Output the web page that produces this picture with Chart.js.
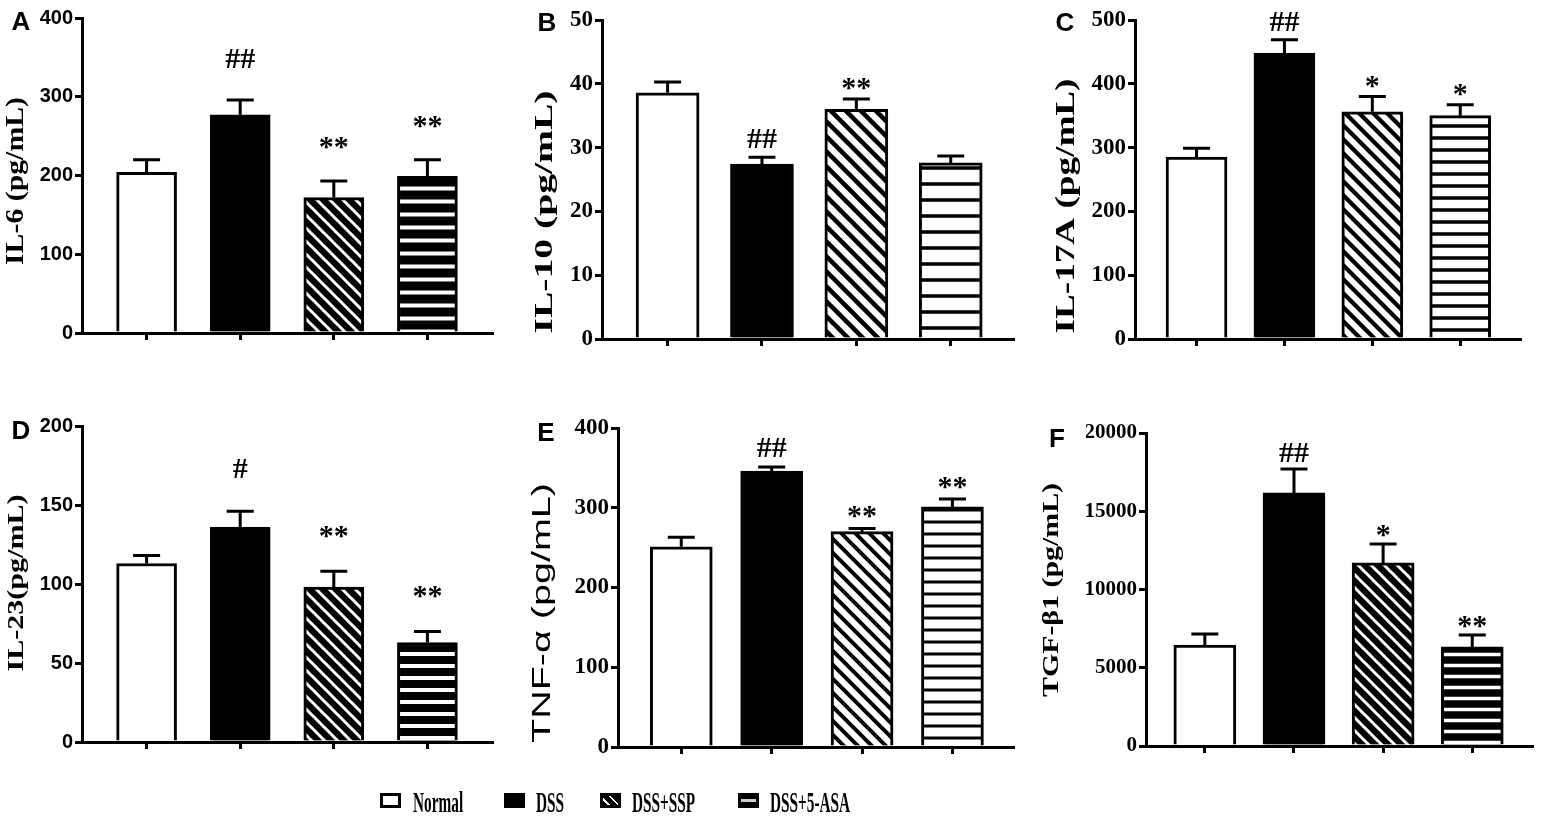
<!DOCTYPE html>
<html>
<head>
<meta charset="utf-8">
<title>Cytokine levels</title>
<script src="https://cdn.jsdelivr.net/npm/chart.js@4.4.1/dist/chart.umd.min.js"></script>
<style>
  html, body { margin: 0; padding: 0; background: #fff; }
  #wrap { position: relative; width: 1562px; height: 817px; overflow: hidden; }
  #wrap canvas { position: absolute; left: 0; top: 0; }
  .box { position: absolute; top: 793px; width: 21px; height: 15px; box-sizing: border-box; border: 3px solid #000; }
  .lab { position: absolute; top: 787px; font: bold 30px "Liberation Serif"; line-height: 30px;
         white-space: nowrap; transform-origin: left center; transform: scaleX(0.51); }
</style>
</head>
<body>
<div id="wrap">
  <canvas id="cA" width="1562" height="817"></canvas>
  <canvas id="cB" width="1562" height="817"></canvas>
  <canvas id="cC" width="1562" height="817"></canvas>
  <canvas id="cD" width="1562" height="817"></canvas>
  <canvas id="cE" width="1562" height="817"></canvas>
  <canvas id="cF" width="1562" height="817"></canvas>

  <div class="box" style="left:380px;background:#fff"></div>
  <span class="lab" style="left:413px">Normal</span>
  <div class="box" style="left:504px;background:#000"></div>
  <span class="lab" style="left:536px">DSS</span>
  <div class="box" style="left:600px;background:repeating-linear-gradient(45deg,#000 0 3px,#fff 3px 5px,#000 5px 7px)"></div>
  <span class="lab" style="left:632px">DSS+SSP</span>
  <div class="box" style="left:738px;background:linear-gradient(#000 0 33%,#ccc 33% 67%,#000 67% 100%)"></div>
  <span class="lab" style="left:770px">DSS+5-ASA</span>
</div>

<script>
const groups = ['Normal', 'DSS', 'DSS+SSP', 'DSS+5-ASA'];

// A: IL-6
const il6Mean = [204, 277, 172, 199];
const il6Sem = [16, 19, 21, 21];
const il6Sig = ['', '##', '**', '**'];
const il6Ticks = [0, 100, 200, 300, 400];

// B: IL-10
const il10Mean = [38.6, 27.4, 36.0, 27.6];
const il10Sem = [1.7, 1.1, 1.6, 1.1];
const il10Sig = ['', '##', '**', ''];
const il10Ticks = [0, 10, 20, 30, 40, 50];

// C: IL-17A
const il17Mean = [285, 448, 356, 350];
const il17Sem = [14, 21, 24, 17];
const il17Sig = ['', '##', '*', '*'];
const il17Ticks = [0, 100, 200, 300, 400, 500];

// D: IL-23
const il23Mean = [113, 136, 98, 63];
const il23Sem = [5, 10, 10, 7];
const il23Sig = ['', '#', '**', '**'];
const il23Ticks = [0, 50, 100, 150, 200];

// E: TNF-α
const tnfMean = [251, 346, 270, 301];
const tnfSem = [12, 5, 4, 10];
const tnfSig = ['', '##', '**', '**'];
const tnfTicks = [0, 100, 200, 300, 400];

// F: TGF-β1
const tgfMean = [6450, 16170, 11700, 6330];
const tgfSem = [710, 1530, 1200, 760];
const tgfSig = ['', '##', '*', '**'];
const tgfTicks = [0, 5000, 10000, 15000, 20000];

const sansTick = { family: 'Liberation Sans', size: 20, weight: 'bold' };
const serifTick = { family: 'Liberation Serif', size: 23, weight: 'bold' };

const panels = [
  { id: 'cA', letter: 'A', lx: 21, ly: 23, title: 'IL-6 (pg/mL)', tx: 17, ty: 181, tlen: 168,
    tfont: 'bold 25px "Liberation Serif"', mean: il6Mean, sem: il6Sem, sig: il6Sig, ticks: il6Ticks,
    L: 82, T: 18, R: 492, B: 333, xMin: -0.69, xMax: 3.69, barW: 60, tickFont: sansTick,
    sigGap: 32, dark: true, dp: 13, dl: 3, hp: 13, hl: 4 },
  { id: 'cB', letter: 'B', lx: 547, ly: 24, title: 'IL-10 (pg/mL)', tx: 545, ty: 212, tlen: 243,
    tfont: 'bold 26px "Liberation Serif"', mean: il10Mean, sem: il10Sem, sig: il10Sig, ticks: il10Ticks,
    L: 602, T: 20, R: 1013, B: 339, xMin: -0.695, xMax: 3.66, barW: 63, tickFont: serifTick,
    sigGap: 9, dark: false, dp: 15, dl: 4.5, hp: 16, hl: 3.5 },
  { id: 'cC', letter: 'C', lx: 1065, ly: 24, title: 'IL-17A (pg/mL)', tx: 1067, ty: 206, tlen: 255,
    tfont: 'bold 27px "Liberation Serif"', mean: il17Mean, sem: il17Sem, sig: il17Sig, ticks: il17Ticks,
    L: 1135, T: 20, R: 1520, B: 339, xMin: -0.70, xMax: 3.68, barW: 61, tickFont: serifTick,
    sigGap: 9, dark: false, dp: 14, dl: 4.2, hp: 12, hl: 3.5 },
  { id: 'cD', letter: 'D', lx: 21, ly: 432, title: 'IL-23(pg/mL)', tx: 17, ty: 583, tlen: 177,
    tfont: 'bold 24px "Liberation Serif"', mean: il23Mean, sem: il23Sem, sig: il23Sig, ticks: il23Ticks,
    L: 82, T: 426, R: 492, B: 742, xMin: -0.69, xMax: 3.69, barW: 60, tickFont: sansTick,
    sigGap: 33, dark: true, dp: 13, dl: 3, hp: 12, hl: 4 },
  { id: 'cE', letter: 'E', lx: 546, ly: 434, title: 'TNF-α (pg/mL)', tx: 543, ty: 613, tlen: 260,
    tfont: '26px "Liberation Sans"', mean: tnfMean, sem: tnfSem, sig: tnfSig, ticks: tnfTicks,
    L: 618, T: 428, R: 1013, B: 747, xMin: -0.70, xMax: 3.67, barW: 62, tickFont: serifTick,
    sigGap: 10, dark: false, dp: 14, dl: 4, hp: 12, hl: 3 },
  { id: 'cF', letter: 'F', lx: 1057, ly: 440, title: 'TGF-β1 (pg/mL)', tx: 1052, ty: 590, tlen: 214,
    tfont: 'bold 24px "Liberation Serif"', mean: tgfMean, sem: tgfSem, sig: tgfSig, ticks: tgfTicks,
    L: 1146, T: 433, R: 1532, B: 746, xMin: -0.66, xMax: 3.67, barW: 62,
    tickFont: { family: 'Liberation Serif', size: 21, weight: 'bold' },
    sigGap: 7, dark: true, dp: 13, dl: 3, hp: 11, hl: 3.5 }
];

function diagPattern(bg, fg, p, lw) {
  const c = document.createElement('canvas');
  c.width = c.height = p;
  const g = c.getContext('2d');
  g.fillStyle = bg;
  g.fillRect(0, 0, p, p);
  g.strokeStyle = fg;
  g.lineWidth = lw;
  for (let k = -1; k <= 1; k++) {
    g.beginPath();
    g.moveTo(k * p - p, -p);
    g.lineTo(k * p + 2 * p, 2 * p);
    g.stroke();
  }
  return g.createPattern(c, 'repeat');
}

function stripePattern(bg, fg, p, lw) {
  const c = document.createElement('canvas');
  c.width = 8;
  c.height = p;
  const g = c.getContext('2d');
  g.fillStyle = bg;
  g.fillRect(0, 0, 8, p);
  g.fillStyle = fg;
  g.fillRect(0, (p - lw) / 2, 8, lw);
  return g.createPattern(c, 'repeat');
}

// error bars, significance marks, panel letter and stretched y title
function decoPlugin(o) {
  return {
    id: 'deco' + o.letter,
    afterDatasetsDraw(chart) {
      const ctx = chart.ctx;
      const y = chart.scales.y;
      const bars = chart.getDatasetMeta(0).data;
      ctx.save();
      ctx.strokeStyle = '#000';
      ctx.fillStyle = '#000';
      ctx.lineWidth = 3;
      ctx.font = 'bold 30px "Liberation Serif"';
      ctx.textAlign = 'center';
      bars.forEach((bar, i) => {
        const top = y.getPixelForValue(o.mean[i] + o.sem[i]);
        ctx.beginPath();
        ctx.moveTo(bar.x, bar.y);
        ctx.lineTo(bar.x, top);
        ctx.moveTo(bar.x - 13.5, top);
        ctx.lineTo(bar.x + 13.5, top);
        ctx.stroke();
        if (o.sig[i]) {
          const m = ctx.measureText(o.sig[i]);
          ctx.fillText(o.sig[i], bar.x, top - o.sigGap - m.actualBoundingBoxDescent);
        }
      });

      ctx.font = 'bold 26px "Liberation Sans"';
      ctx.textBaseline = 'middle';
      ctx.fillText(o.letter, o.lx, o.ly);

      ctx.translate(o.tx, o.ty);
      ctx.rotate(-Math.PI / 2);
      ctx.font = o.tfont;
      const w = ctx.measureText(o.title).width;
      ctx.scale(o.tlen / w, 1);
      ctx.fillText(o.title, 0, 0);
      ctx.restore();
    }
  };
}

const axisGrid = { drawOnChartArea: false, drawTicks: true, tickLength: 7, lineWidth: 3, color: '#000', offset: false };
const axisBorder = { display: true, width: 3, color: '#000' };

panels.forEach(o => {
  const fills = o.dark
    ? ['#fff', '#000', diagPattern('#000', '#fff', o.dp, o.dl), stripePattern('#000', '#fff', o.hp, o.hl)]
    : ['#fff', '#000', diagPattern('#fff', '#000', o.dp, o.dl), stripePattern('#fff', '#000', o.hp, o.hl)];
  const yw = 60;
  const xh = 20;
  new Chart(document.getElementById(o.id), {
    type: 'bar',
    data: {
      datasets: [{
        label: o.title,
        data: groups.map((g, i) => ({ x: i, y: o.mean[i] })),
        backgroundColor: fills,
        borderColor: '#000',
        borderWidth: 3,
        borderSkipped: 'start',
        barThickness: o.barW
      }]
    },
    options: {
      responsive: false,
      animation: false,
      events: [],
      layout: { padding: { left: o.L - yw, top: o.T, right: 1562 - o.R, bottom: 817 - o.B - xh } },
      plugins: { legend: { display: false }, tooltip: { enabled: false } },
      scales: {
        x: {
          type: 'linear',
          min: o.xMin,
          max: o.xMax,
          offset: false,
          afterBuildTicks: s => { s.ticks = groups.map((g, i) => ({ value: i })); },
          afterFit: s => { s.height = xh; },
          ticks: { display: false },
          grid: axisGrid,
          border: axisBorder
        },
        y: {
          min: o.ticks[0],
          max: o.ticks[o.ticks.length - 1],
          afterBuildTicks: s => { s.ticks = o.ticks.map(v => ({ value: v })); },
          afterFit: s => { s.width = yw; },
          ticks: { font: o.tickFont, color: '#000', padding: 2, autoSkip: false, callback: v => String(v) },
          grid: axisGrid,
          border: axisBorder
        }
      }
    },
    plugins: [decoPlugin(o)]
  });
});
</script>
</body>
</html>
